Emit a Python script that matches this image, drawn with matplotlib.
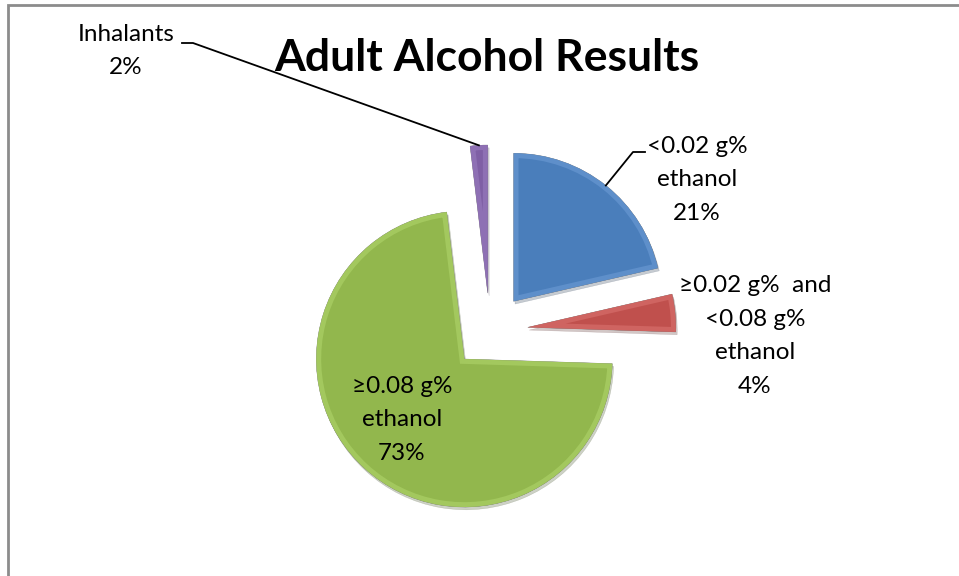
import numpy as np
import matplotlib
matplotlib.use("Agg")
import matplotlib.pyplot as plt
from matplotlib.patches import Rectangle, Wedge

# data
categories = ["<0.02 g%\nethanol", "\u22650.02 g%  and\n<0.08 g%\nethanol",
              "\u22650.08 g%\nethanol", "Inhalants"]
values = [21.4, 4.1, 72.6, 1.9]
pct_labels = ["21%", "4%", "73%", "2%"]
colors = ["#4a7ebb", "#c0504d", "#92b74d", "#7f5fa5"]
rims = ["#5e8fca", "#cf6461", "#a3c85e", "#8e70b4"]

W, H = 959, 576
plt.rcParams["font.family"] = ["Lato", "DejaVu Sans"]

fig = plt.figure(figsize=(W / 100, H / 100), dpi=100)
ax = fig.add_axes([0, 0, 1, 1])


def px(x, y):
    # image pixel coords (y down) -> data coords (y up)
    return (x, H - y)


center = px(490, 331)
radius = 148
wedges, _ = ax.pie(values, center=center, radius=radius, startangle=90,
                   counterclock=False, explode=[38] * len(values),
                   colors=colors,
                   wedgeprops=dict(edgecolor="#6a6a6a", linewidth=0.3),
                   shadow={"ox": 1.0, "oy": -2.0, "shade": 0.6, "alpha": 0.25})

# soft bevel rim clipped inside each slice
for w, rc in zip(wedges, rims):
    rim = Wedge(w.center, w.r, w.theta1, w.theta2, facecolor="none",
                edgecolor=rc, linewidth=7, zorder=w.get_zorder() + 0.1)
    ax.add_patch(rim)
    rim.set_clip_path(w)


def arc_mid(w):
    t = np.deg2rad((w.theta1 + w.theta2) / 2)
    return (w.center[0] + w.r * np.cos(t), w.center[1] + w.r * np.sin(t))


lab_kw = dict(ha="center", va="center", fontsize=17.5, linespacing=1.75,
              color="black")

# blue slice label with leader
ax.text(*px(697, 180), categories[0] + "\n" + pct_labels[0], **lab_kw)
bx, by = arc_mid(wedges[0])
ax.plot([bx, px(633, 152)[0], px(645, 152)[0]],
        [by, px(633, 152)[1], px(645, 152)[1]], color="black", lw=1.3)

# red slice label
ax.text(*px(755, 336), categories[1] + "\n" + pct_labels[1], **lab_kw)

# green slice label (inside)
ax.text(*px(402, 420), categories[2] + "\n" + pct_labels[2], **lab_kw)

# inhalants label with leader
ax.text(*px(126, 51), categories[3] + "\n" + pct_labels[3], **lab_kw)
ix, iy = arc_mid(wedges[3])
ax.plot([ix, px(193, 43)[0], px(182, 43)[0]],
        [iy, px(193, 43)[1], px(182, 43)[1]], color="black", lw=1.3)

ax.text(*px(487, 58), "Adult Alcohol Results", ha="center", va="center",
        fontsize=32, fontweight="bold")

# chart border
ax.add_patch(Rectangle(px(8, H + 20), W + 40, H + 15, fill=False,
                       edgecolor="#8c8c8c", linewidth=2, clip_on=False))

ax.set_xlim(0, W)
ax.set_ylim(0, H)
ax.set_aspect("equal")
ax.axis("off")

fig.savefig("out.png", dpi=100)
